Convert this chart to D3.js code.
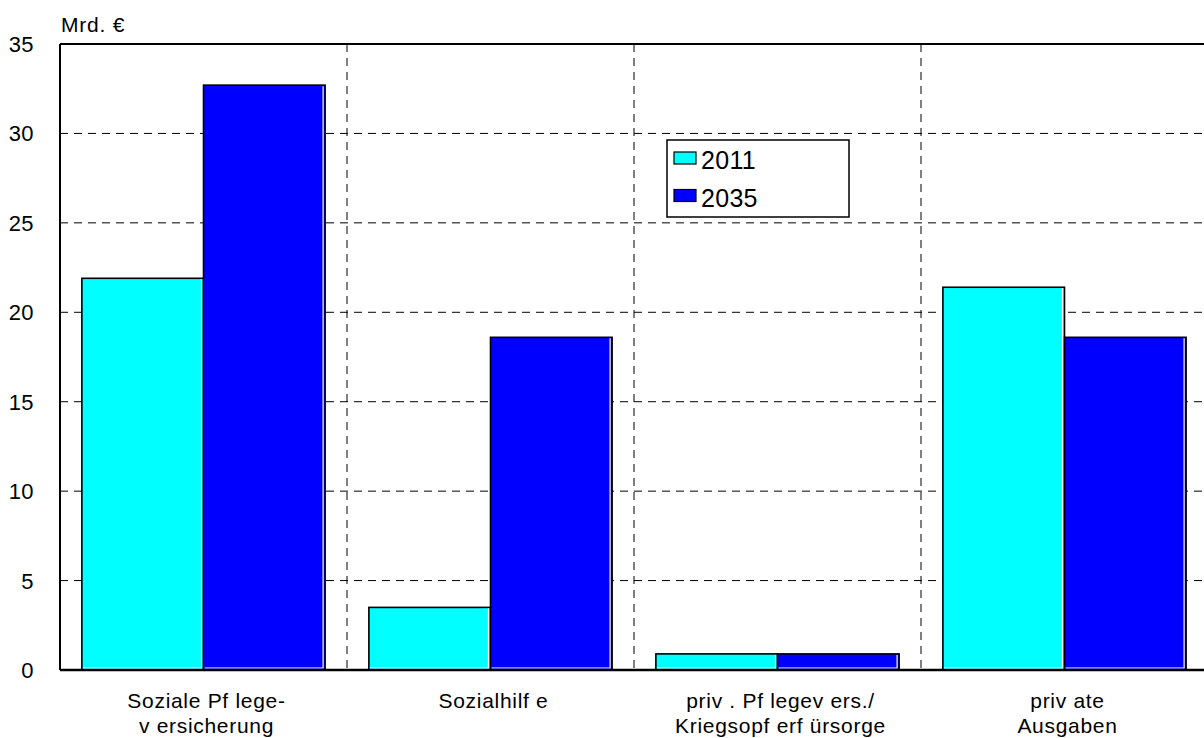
<!DOCTYPE html>
<html>
<head>
<meta charset="utf-8">
<script src="https://cdn.jsdelivr.net/npm/d3@7"></script>
<style>
  body { margin: 0; background: #fff; }
  svg text { font-family: "Liberation Sans", Arial, sans-serif; fill: #000; }
</style>
</head>
<body>
<svg id="chart" width="1204" height="738"></svg>
<script>
// chart data
var categories = ["Soziale Pflege-versicherung", "Sozialhilfe", "priv. Pflegevers./Kriegsopferfürsorge", "private Ausgaben"];
var labelLines = [
    ["Soziale Pf lege-", "v ersicherung"],
    ["Sozialhilf e"],
    ["priv .  Pf legev ers./", "Kriegsopf erf ürsorge"],
    ["priv ate", "Ausgaben"]
];
var seriesNames = ["2011", "2035"];
var values2011 = [21.9, 3.5, 0.9, 21.4];
var values2035 = [32.7, 18.6, 0.9, 18.6];
var colors = ["#00ffff", "#0000ff"];
var yTicks = [0, 5, 10, 15, 20, 25, 30, 35];

var svg = d3.select('#chart');
var plotLeft = 60, plotTop = 44, plotBottom = 670, plotRight = 1208;

var x0 = d3.scaleBand().domain(categories).range([plotLeft, plotRight]);
var x1 = d3.scaleBand().domain(seriesNames).range([0, x0.bandwidth()]).paddingOuter(0.18);
var y = d3.scaleLinear().domain([0, 35]).range([plotBottom, plotTop]);

// horizontal grid
svg.append('g')
    .selectAll('line')
    .data(yTicks.filter(function(d){ return d > 0 && d < 35; }))
    .enter().append('line')
    .attr('x1', plotLeft).attr('x2', plotRight)
    .attr('y1', function(d){ return y(d); })
    .attr('y2', function(d){ return y(d); })
    .attr('stroke', '#000').attr('stroke-width', 1)
    .attr('stroke-dasharray', '8,6');

// vertical grid between categories
svg.append('g')
    .selectAll('line')
    .data(categories.slice(1))
    .enter().append('line')
    .attr('x1', function(d){ return x0(d); })
    .attr('x2', function(d){ return x0(d); })
    .attr('y1', plotTop).attr('y2', plotBottom)
    .attr('stroke', '#000').attr('stroke-width', 1)
    .attr('stroke-dasharray', '8,6');

// bars
var rows = categories.map(function(c, i){
    return [
        {cat: c, s: seriesNames[0], v: values2011[i], col: colors[0]},
        {cat: c, s: seriesNames[1], v: values2035[i], col: colors[1]}
    ];
});
var groups = svg.append('g')
    .selectAll('g')
    .data(rows)
    .enter().append('g')
    .attr('transform', function(d){ return 'translate(' + x0(d[0].cat) + ',0)'; });

groups.selectAll('rect')
    .data(function(d){ return d; })
    .enter().append('rect')
    .attr('x', function(d){ return x1(d.s); })
    .attr('y', function(d){ return y(d.v); })
    .attr('width', x1.bandwidth())
    .attr('height', function(d){ return plotBottom - y(d.v); })
    .attr('fill', function(d){ return d.col; })
    .attr('stroke', '#000').attr('stroke-width', 1.6);

// white inner edge right/bottom like the original
groups.selectAll('path.hl')
    .data(function(d){ return d; })
    .enter().append('path')
    .attr('class', 'hl')
    .attr('d', function(d){
        var xr = x1(d.s) + x1.bandwidth() - 2;
        var xl = x1(d.s) + 1;
        var yt = y(d.v) + 1;
        var yb = plotBottom - 2;
        return 'M' + xr + ',' + yt + 'L' + xr + ',' + yb + 'L' + xl + ',' + yb;
    })
    .attr('fill', 'none').attr('stroke', '#fff').attr('stroke-width', 1.2);

// frame
svg.append('line').attr('x1', plotLeft).attr('x2', plotRight).attr('y1', plotTop).attr('y2', plotTop)
    .attr('stroke', '#000').attr('stroke-width', 2);
svg.append('line').attr('x1', plotLeft).attr('x2', plotRight).attr('y1', plotBottom).attr('y2', plotBottom)
    .attr('stroke', '#000').attr('stroke-width', 2.5);
svg.append('line').attr('x1', plotLeft).attr('x2', plotLeft).attr('y1', plotTop).attr('y2', plotBottom)
    .attr('stroke', '#000').attr('stroke-width', 2);

// y tick labels
svg.append('g')
    .selectAll('text')
    .data(yTicks)
    .enter().append('text')
    .attr('x', 34)
    .attr('y', function(d){ return y(d) + 8; })
    .attr('text-anchor', 'end')
    .style('font-size', '22px')
    .style('letter-spacing', '0.4px')
    .text(function(d){ return d; });

svg.append('text')
    .attr('x', 61).attr('y', 32)
    .style('font-size', '21px')
    .style('letter-spacing', '0.8px')
    .text('Mrd. €');

// x labels
var xl = svg.append('g')
    .selectAll('text')
    .data(categories)
    .enter().append('text')
    .attr('x', function(d){ return x0(d) + x0.bandwidth() / 2 + 3; })
    .attr('y', 708)
    .attr('text-anchor', 'middle')
    .style('font-size', '21px')
    .style('letter-spacing', '0.7px');
xl.selectAll('tspan')
    .data(function(d, i){ return labelLines[i]; })
    .enter().append('tspan')
    .attr('x', function(){ var c = d3.select(this.parentNode).datum(); return x0(c) + x0.bandwidth() / 2 + 3; })
    .attr('dy', function(d, i){ return i === 0 ? 0 : 25; })
    .text(function(d){ return d; });

// legend
var lg = svg.append('g').attr('transform', 'translate(667,140)');
lg.append('rect').attr('width', 182).attr('height', 77)
    .attr('fill', '#fff').attr('stroke', '#000').attr('stroke-width', 1.5);
var items = lg.selectAll('g')
    .data(seriesNames)
    .enter().append('g')
    .attr('transform', function(d, i){ return 'translate(0,' + (i * 37.5) + ')'; });
items.append('rect')
    .attr('x', 7).attr('y', 12).attr('width', 22).attr('height', 12)
    .attr('fill', function(d, i){ return colors[i]; })
    .attr('stroke', '#000').attr('stroke-width', 1.2);
items.append('text')
    .attr('x', 34).attr('y', 29)
    .style('font-size', '25px')
    .style('letter-spacing', '0.3px')
    .text(function(d){ return d; });
</script>
</body>
</html>
